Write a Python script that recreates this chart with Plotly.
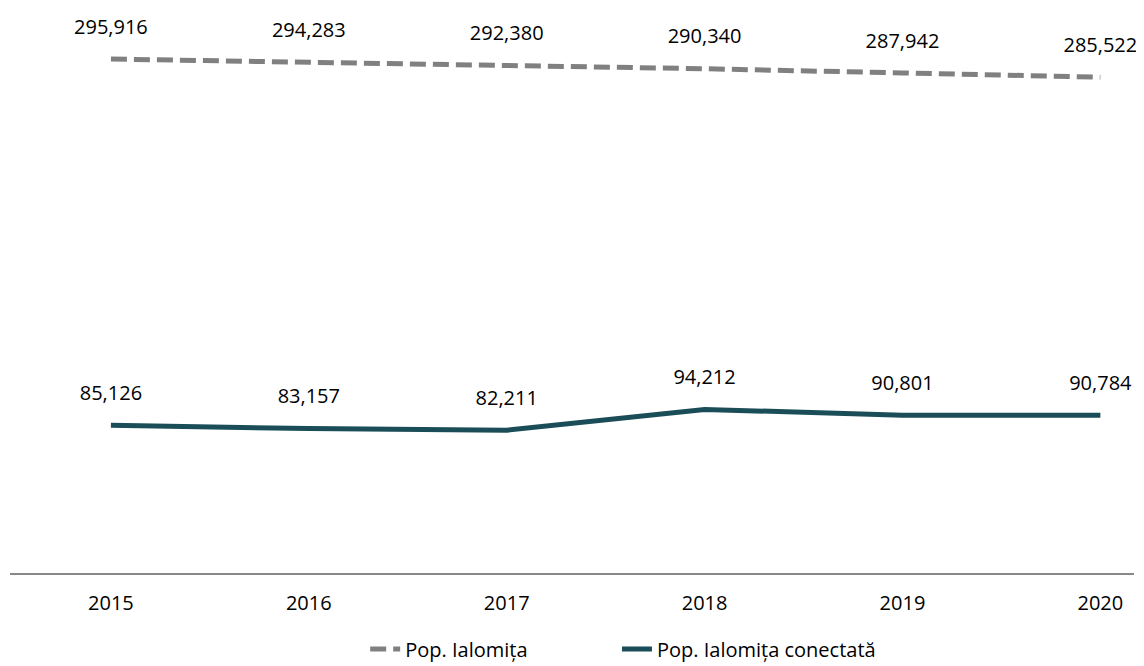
import plotly.graph_objects as go

years = ["2015", "2016", "2017", "2018", "2019", "2020"]
pop_total = [295916, 294283, 292380, 290340, 287942, 285522]
pop_conectata = [85126, 83157, 82211, 94212, 90801, 90784]

FONT = "Open Sans"
GRAY = "#808080"
TEAL = "#1a4d57"

fig = go.Figure()
fig.add_trace(go.Scatter(
    x=years, y=pop_total, mode="lines", name="Pop. Ialomița",
    line=dict(color=GRAY, width=5, dash="16px,7px"), legend="legend",
))
fig.add_trace(go.Scatter(
    x=years, y=pop_conectata, mode="lines", name="Pop. Ialomița conectată",
    line=dict(color=TEAL, width=5), legend="legend2",
))

# value labels above each point (transparent markers push the text up)
for series in (pop_total, pop_conectata):
    fig.add_trace(go.Scatter(
        x=years, y=series, mode="markers+text", text=[f"{v:,}" for v in series],
        textposition="top center", textfont=dict(family=FONT, size=20, color="#000"),
        marker=dict(size=31, color="rgba(0,0,0,0)"), showlegend=False,
        hoverinfo="skip", cliponaxis=False,
    ))

legend_style = dict(orientation="h", xanchor="left", y=-0.146, yanchor="middle",
                    font=dict(family=FONT, size=20, color="#000"),
                    bgcolor="rgba(0,0,0,0)")

fig.update_layout(
    width=1136, height=658,
    margin=dict(l=2, r=10, t=44, b=93, autoexpand=False),
    plot_bgcolor="white", paper_bgcolor="white",
    font=dict(family=FONT, size=20, color="#000"),
    showlegend=True,
    legend=dict(x=0.316, **legend_style),
    legend2=dict(x=0.540, **legend_style),
    xaxis=dict(type="category", range=[-0.51, 5.17], showgrid=False, zeroline=False,
               showline=True, linecolor="#898989", linewidth=1.5, ticks="",
               ticklabelstandoff=11),
    yaxis=dict(range=[0, 300000], showgrid=False, zeroline=False, showline=False,
               showticklabels=False, ticks=""),
)

fig.write_html("out.html")
